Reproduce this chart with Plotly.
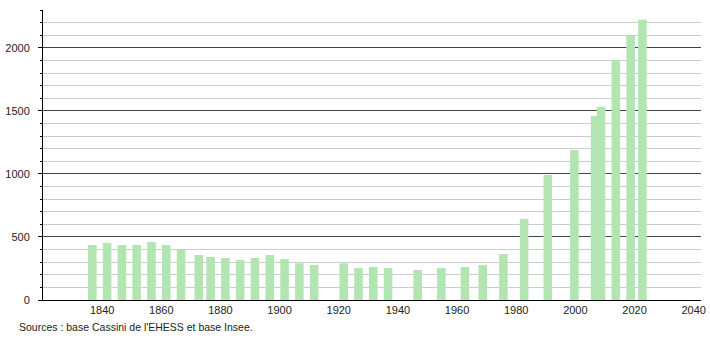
import plotly.graph_objects as go

years = [1836, 1841, 1846, 1851, 1856, 1861, 1866, 1872, 1876, 1881, 1886, 1891,
         1896, 1901, 1906, 1911, 1921, 1926, 1931, 1936, 1946, 1954, 1962, 1968,
         1975, 1982, 1990, 1999, 2006, 2008, 2013, 2018, 2022]
population = [436, 452, 436, 436, 460, 436, 397, 357, 341, 333, 317, 333,
              357, 325, 291, 278, 291, 254, 262, 254, 238, 254, 262, 278,
              365, 643, 992, 1190, 1460, 1532, 1905, 2095, 2222]
x_ticks = [1840, 1860, 1880, 1900, 1920, 1940, 1960, 1980, 2000, 2020, 2040]
y_ticks = [0, 500, 1000, 1500, 2000]
source_text = "Sources : base Cassini de l'EHESS et base Insee."

fig = go.Figure()
fig.add_trace(go.Bar(
    x=years, y=population, width=2.9,
    marker=dict(color="#b3e5b3", line=dict(width=0)),
    hoverinfo="x+y",
))

font = dict(family="Liberation Sans, Arial, sans-serif", size=11, color="#222")

fig.update_layout(
    width=710, height=340,
    margin=dict(l=43, r=9, t=10, b=40),
    paper_bgcolor="white", plot_bgcolor="white",
    showlegend=False,
    font=font,
    xaxis=dict(
        range=[1819.33, 2041.8],
        tickvals=x_ticks, ticktext=[str(v) for v in x_ticks],
        showgrid=False, zeroline=False,
        showline=True, linecolor="#000", linewidth=1,
        ticks="", ticklabelshift=-2, automargin=False,
        tickfont=font,
    ),
    yaxis=dict(
        range=[0, 2300],
        tickvals=y_ticks,
        showgrid=True, gridcolor="#444", gridwidth=1,
        zeroline=False,
        showline=True, linecolor="#000", linewidth=1,
        ticks="outside", ticklen=4, tickcolor="#000",
        ticklabelstandoff=6, automargin=False,
        minor=dict(dtick=100, showgrid=True, gridcolor="#cccccc",
                   ticks="outside", ticklen=2, tickcolor="#000"),
        tickfont=font,
    ),
    annotations=[dict(
        text=source_text, xref="paper", yref="paper",
        x=(17 - 43) / 658, y=(300 - 327) / 290,
        xanchor="left", yanchor="middle", showarrow=False,
        font=dict(family="Liberation Sans, Arial, sans-serif", size=10.5, color="#222"),
    )],
)

fig.write_html("out.html")
